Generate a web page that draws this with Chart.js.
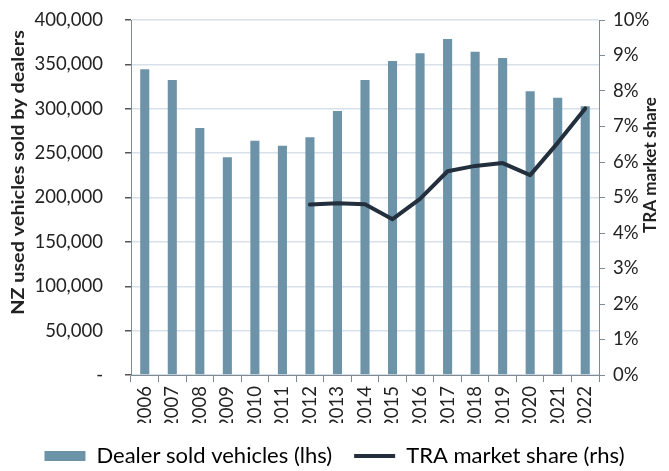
<!DOCTYPE html>
<html>
<head>
<meta charset="utf-8">
<script src="https://cdn.jsdelivr.net/npm/chart.js@4.4.0/dist/chart.umd.min.js"></script>
<style>
  html, body { margin: 0; padding: 0; background: #fff; }
  #wrap { width: 669px; height: 471px; position: relative; }
</style>
</head>
<body>
<div id="wrap"><canvas id="c" width="669" height="471"></canvas></div>
<script>
const years = ['2006','2007','2008','2009','2010','2011','2012','2013','2014','2015','2016','2017','2018','2019','2020','2021','2022'];
const dealerSold = [344500, 332400, 278300, 245300, 264000, 258400, 267800, 297500, 332400, 353800, 362500, 378600, 364300, 357200, 319700, 312500, 302700];
const traShare = [null, null, null, null, null, null, 4.80, 4.84, 4.81, 4.39, 4.96, 5.74, 5.89, 5.97, 5.63, 6.54, 7.51];
const leftTicks = [0, 50000, 100000, 150000, 200000, 250000, 300000, 350000, 400000];
const leftTitle = 'NZ used vehicles sold by dealers';
const rightTitle = 'TRA market share';

const BAR = '#6d93a8';
const LINE = '#232f3c';
const AXIS = '#7f8a93';
const FONT = 'Lato';

Chart.defaults.font.family = FONT;
Chart.defaults.color = '#222';

// Axis titles drawn bottom-to-top on both sides, as in the reference
const axisTitles = {
  id: 'axisTitles',
  afterDraw(chart) {
    const ctx = chart.ctx;
    const yl = chart.scales.y, yr = chart.scales.y2;
    const draw = (text, x, y, len) => {
      ctx.save();
      ctx.fillStyle = '#222';
      ctx.font = 'bold 16.5px ' + FONT;
      ctx.textAlign = 'center';
      ctx.textBaseline = 'middle';
      const w = ctx.measureText(text).width;
      ctx.translate(x, y);
      ctx.rotate(-Math.PI / 2);
      ctx.scale(Math.min(1.2, Math.max(0.9, len / w)), 1);
      ctx.fillText(text, 0, 0);
      ctx.restore();
    };
    draw(leftTitle, yl.left + 19, 172.5, 296);
    draw(rightTitle, yr.right - 18, 165, 136);
  }
};

new Chart(document.getElementById('c'), {
  data: {
    labels: years,
    datasets: [
      { type: 'bar', label: 'Dealer sold vehicles (lhs)', data: dealerSold, yAxisID: 'y',
        backgroundColor: BAR, borderWidth: 0, barPercentage: 0.33, categoryPercentage: 1.0, order: 2 },
      { type: 'line', label: 'TRA market share (rhs)', data: traShare, yAxisID: 'y2',
        borderColor: LINE, backgroundColor: LINE, borderWidth: 4, pointRadius: 0, tension: 0,
        borderCapStyle: 'round', borderJoinStyle: 'round', order: 1 }
    ]
  },
  plugins: [axisTitles],
  options: {
    responsive: false,
    animation: false,
    layout: { padding: { left: 0, right: 0, top: 20, bottom: 0 } },
    plugins: {
      tooltip: { enabled: false },
      legend: {
        position: 'bottom',
        maxHeight: 48,
        labels: {
          usePointStyle: true,
          pointStyleWidth: 41,
          boxWidth: 41,
          boxHeight: 10,
          padding: 22,
          font: { size: 22, family: FONT },
          color: '#222',
          generateLabels: (chart) => chart.data.datasets.map((ds, i) => ({
            text: ds.label,
            datasetIndex: i,
            fillStyle: ds.type === 'bar' ? BAR : LINE,
            strokeStyle: ds.type === 'bar' ? BAR : LINE,
            lineWidth: ds.type === 'bar' ? 0 : 4,
            pointStyle: ds.type === 'bar' ? 'rect' : 'line',
            hidden: false
          }))
        }
      }
    },
    scales: {
      x: {
        offset: true,
        grid: { display: true, offset: true, drawOnChartArea: false, tickLength: 7, color: AXIS, tickColor: AXIS },
        border: { display: true, color: AXIS, width: 1 },
        ticks: { maxRotation: 90, minRotation: 90, font: { size: 18.5 }, color: '#222', padding: 4 },
        afterFit: (s) => { s.height = 48; }
      },
      y: {
        position: 'left',
        min: 0, max: 400000,
        afterBuildTicks: (s) => { s.ticks = leftTicks.map(v => ({ value: v })); },
        grid: { color: '#d8e1ea', lineWidth: 1.5, tickLength: 6, tickColor: '#555' },
        border: { display: true, color: AXIS, width: 1 },
        ticks: {
          font: { size: 18.5 }, color: '#222', padding: 22,
          callback: (v) => v === 0 ? '-' : v.toLocaleString('en-US')
        },
        afterFit: (s) => { s.width = 131; s.paddingTop = 0; s.paddingBottom = 0; }
      },
      y2: {
        position: 'right',
        min: 0, max: 10,
        ticks: { stepSize: 1, font: { size: 18.5 }, color: '#222', padding: 8, callback: (v) => v + '%' },
        grid: { drawOnChartArea: false, tickLength: 6, tickColor: AXIS },
        border: { display: true, color: AXIS, width: 1 },
        afterFit: (s) => { s.width = 70; s.paddingTop = 0; s.paddingBottom = 0; }
      }
    }
  }
});
</script>
</body>
</html>
